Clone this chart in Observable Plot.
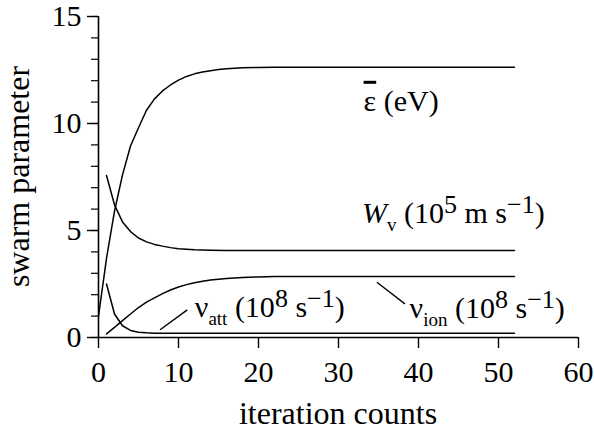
<!DOCTYPE html>
<html><head><meta charset="utf-8">
<script src="https://cdn.jsdelivr.net/npm/d3@7"></script>
<script src="https://cdn.jsdelivr.net/npm/@observablehq/plot@0.6"></script>
<style>html,body{margin:0;padding:0;background:#fff;overflow:hidden} svg{display:block}</style>
</head><body><div id="chart"></div>
<script>
// ---- data ----
const xTicks = [0, 10, 20, 30, 40, 50, 60];
const yTicks = [0, 5, 10, 15];
const yMinorTicks = [0,1,2,3,4,5,6,7,8,9,10,11,12,13,14,15];

const epsIter = [0,1,2,3,4,5,6,7,8,9,10,11,12,13,14,15,16,18,20,22,25,30,40,52];
const epsVal  = [1.0,3.7,5.9,7.6,8.95,9.8,10.62,11.15,11.52,11.8,12.03,12.2,12.32,12.41,12.47,12.52,12.56,12.6,12.62,12.63,12.63,12.63,12.63,12.63];

const wIter = [1,2,3,4,5,6,7,8,9,10,12,14,16,20,30,52];
const wVal  = [7.57,6.2,5.4,4.95,4.65,4.47,4.35,4.27,4.2,4.15,4.1,4.08,4.07,4.06,4.06,4.06];

const ionIter = [1,2,3,4,5,6,7,8,9,10,11,12,13,14,16,18,20,22,30,52];
const ionVal  = [0.17,0.47,0.79,1.1,1.4,1.65,1.85,2.05,2.22,2.36,2.47,2.56,2.63,2.69,2.76,2.8,2.83,2.85,2.85,2.85];

const attIter = [1,2,3,4,5,6,7,8,10,20,52];
const attVal  = [2.5,1.1,0.55,0.33,0.25,0.22,0.2,0.2,0.2,0.2,0.2];

// annotation labels: anchor (iteration, value) of text start/baseline
const labelX = [33.2, 33.0, 12.1, 38.95];
const labelY = [10.57, 5.33, 0.92, 0.87];
const labelParts = [
  [["ε","over"],[" (eV)",""]],
  [["W","ital"],["v","sub"],[" (10",""],["5","sup"],[" m s",""],["−1","sup"],[")",""]],
  [["ν",""],["att","sub"],[" (10",""],["8","sup"],[" s",""],["−1","sup"],[")",""]],
  [["ν",""],["ion","sub"],[" (10",""],["8","sup"],[" s",""],["−1","sup"],[")",""]]
];
// leader lines
const leadX1 = [7.7, 34.8];
const leadY1 = [0.36, 2.58];
const leadX2 = [11.1, 38.3];
const leadY2 = [1.29, 1.57];

const xLabel = "iteration counts";
const yLabel = "swarm parameter";

// ---- build tables ----
const series = [
  {name: "eps", iter: epsIter, val: epsVal},
  {name: "w", iter: wIter, val: wVal},
  {name: "ion", iter: ionIter, val: ionVal},
  {name: "att", iter: attIter, val: attVal}
];
const rows = series.flatMap(s => s.iter.map((x, i) => ({name: s.name, x, y: s.val[i]})));
const leaders = leadX1.map((d, i) => ({x1: d, y1: leadY1[i], x2: leadX2[i], y2: leadY2[i]}));

const font = "Liberation Serif";

const plot = Plot.plot({
  width: 594, height: 435,
  marginLeft: 98, marginRight: 16, marginTop: 16, marginBottom: 98,
  style: {fontFamily: font, color: "#000", background: "#fff"},
  x: {domain: [0, 60]},
  y: {domain: [0, 15]},
  marks: [
    Plot.axisX({ticks: xTicks, tickSize: 11, tickPadding: 12, fontSize: 30, label: null, strokeWidth: 1.4}),
    Plot.axisY({ticks: yMinorTicks, tickSize: 7, tickFormat: () => "", label: null, strokeWidth: 1.2}),
    Plot.axisY({ticks: yTicks, tickSize: 11, tickPadding: 6, fontSize: 30, label: null, strokeWidth: 1.4}),
    Plot.ruleX([0], {y1: 0, y2: 15, stroke: "#000", strokeWidth: 1.6}),
    Plot.ruleY([0], {x1: 0, x2: 60, stroke: "#000", strokeWidth: 1.6}),
    Plot.line(rows, {x: "x", y: "y", z: "name", stroke: "#000", strokeWidth: 1.5}),
    Plot.link(leaders, {x1: "x1", y1: "y1", x2: "x2", y2: "y2", stroke: "#000", strokeWidth: 1.4})
  ]
});
plot.setAttribute("font-family", font);
document.getElementById("chart").appendChild(plot);

// ---- labels drawn as rich SVG text positioned through Plot's scales ----
const sx = plot.scale("x"), sy = plot.scale("y");
const svg = d3.select(plot);
const MAIN = 30, SUB = 19, SUP = 26, SUBSHIFT = 8, SUPSHIFT = 10;
labelParts.forEach((parts, i) => {
  const t = svg.append("text")
    .attr("x", sx.apply(labelX[i]))
    .attr("y", sy.apply(labelY[i]))
    .attr("text-anchor", "start")
    .attr("font-family", font)
    .attr("font-size", MAIN)
    .attr("fill", "#000");
  let shift = 0;
  parts.forEach(([s, kind]) => {
    const ts = t.append("tspan").text(s);
    let target = 0, size = MAIN;
    if (kind === "sub") { target = SUBSHIFT; size = SUB; }
    if (kind === "sup") { target = -SUPSHIFT; size = SUP; }
    if (kind === "ital") ts.attr("font-style", "italic");
    if (kind === "over") ts.attr("text-decoration", "overline");
    ts.attr("font-size", size).attr("dy", target - shift);
    shift = target;
  });
});
const [x0, x1] = sx.range, [y0, y1] = sy.range;
svg.append("text")
  .attr("x", (x0 + x1) / 2).attr("y", 424)
  .attr("text-anchor", "middle").attr("font-family", font).attr("font-size", 32).attr("fill", "#000")
  .text(xLabel);
svg.append("text")
  .attr("transform", `translate(29,${(y0 + y1) / 2}) rotate(-90)`)
  .attr("text-anchor", "middle").attr("font-family", font).attr("font-size", 32).attr("fill", "#000")
  .text(yLabel);
</script>
</body></html>
